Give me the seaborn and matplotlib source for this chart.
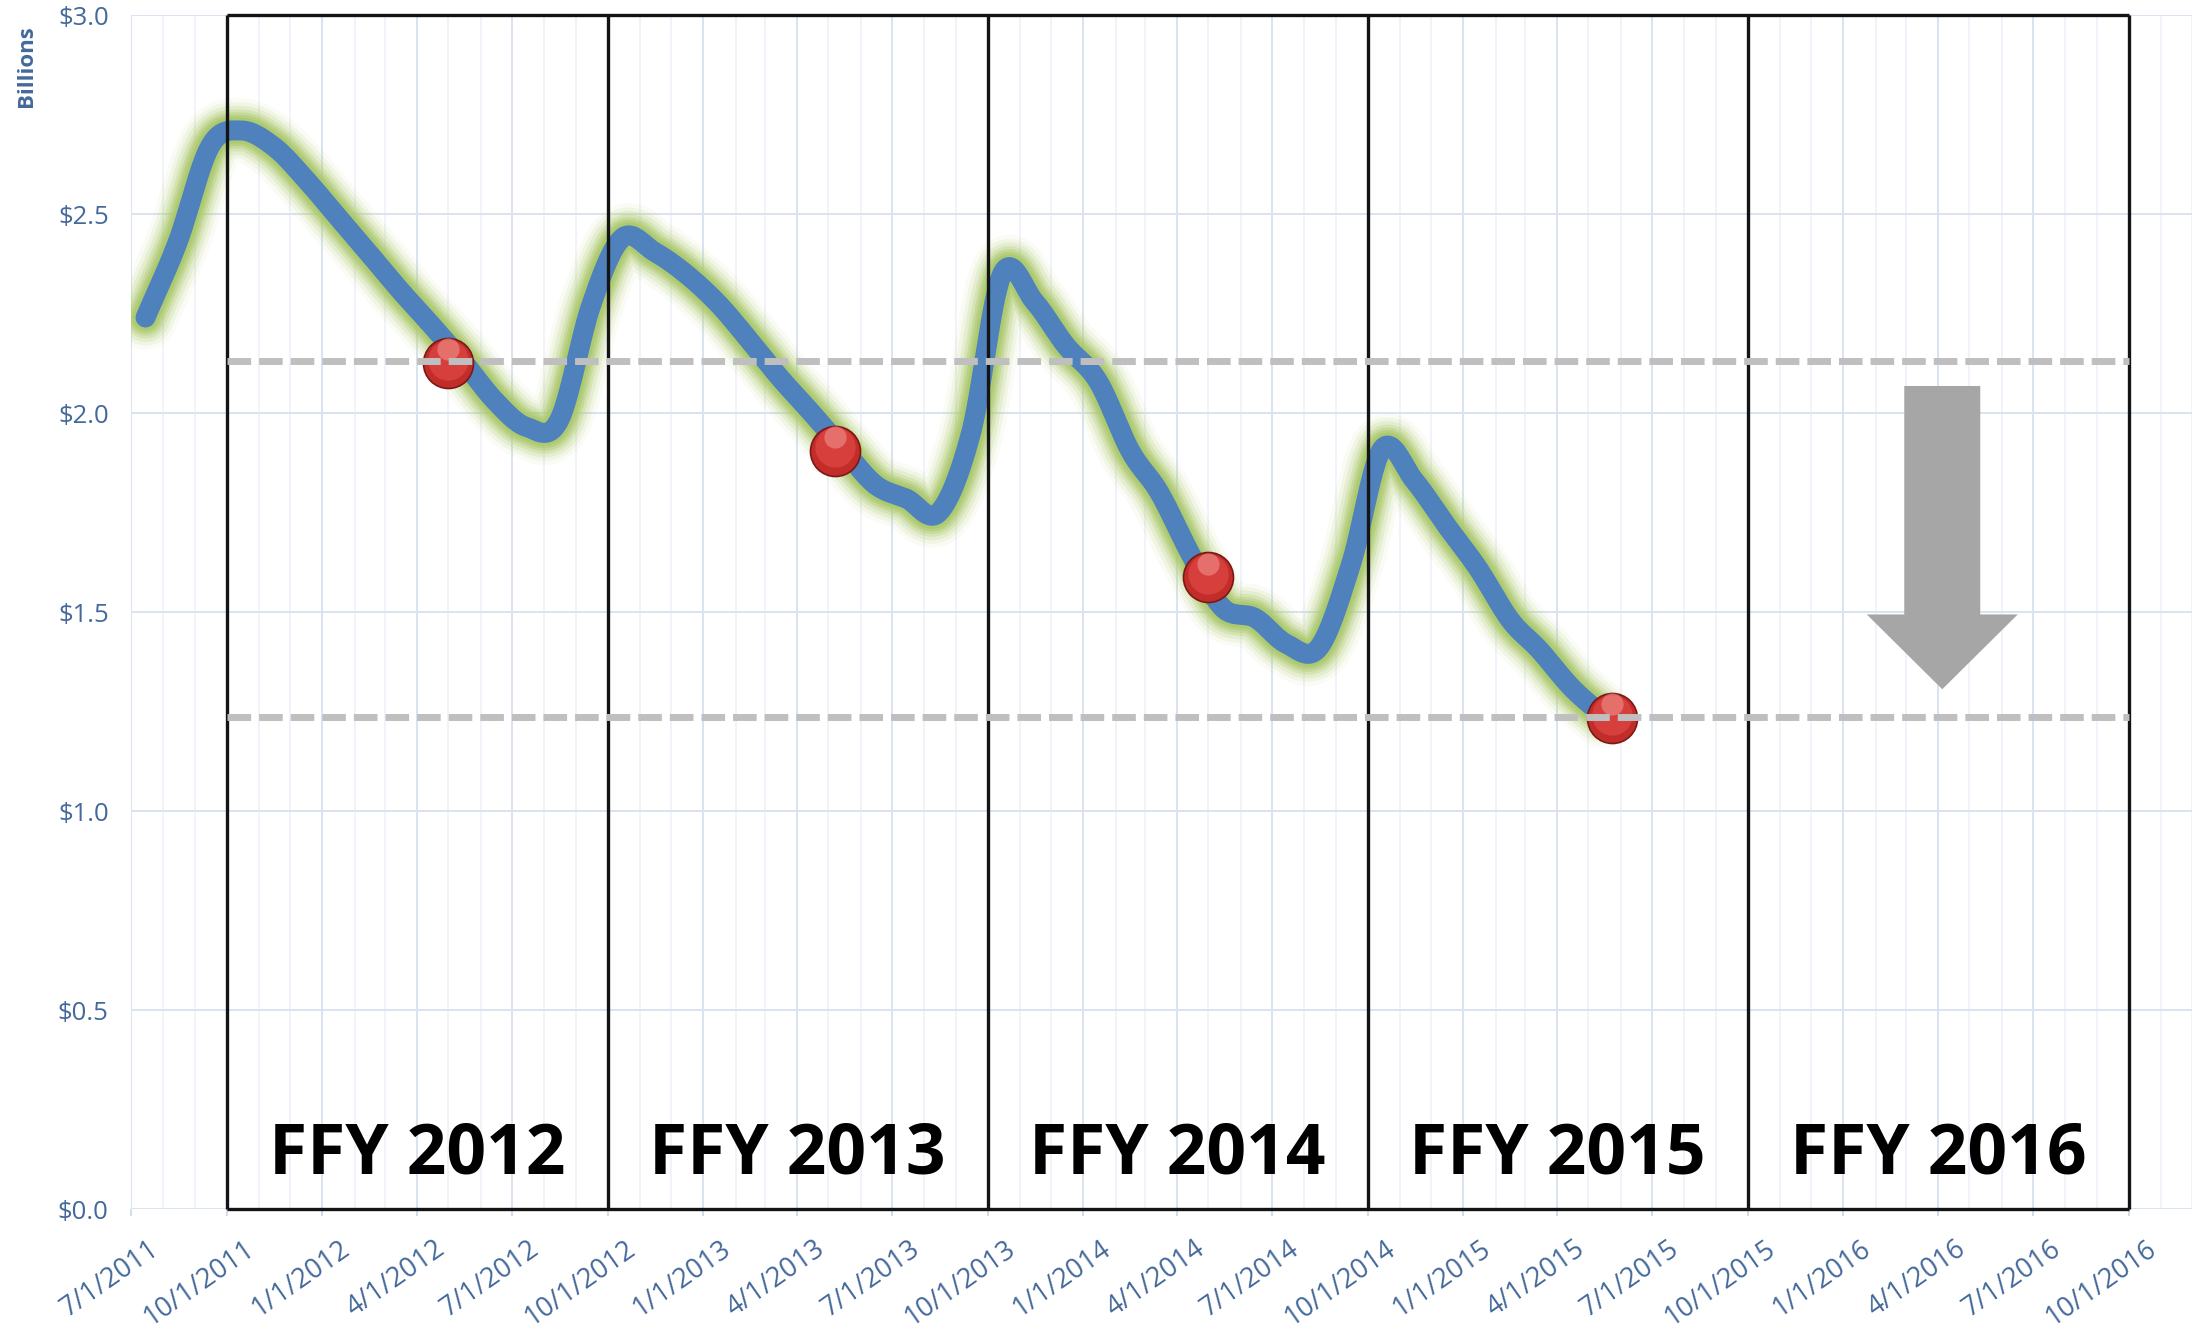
import numpy as np
import pandas as pd
import matplotlib
matplotlib.use("Agg")
import matplotlib.pyplot as plt
import matplotlib.dates as mdates
import matplotlib.transforms as mtrans
from matplotlib.patches import FancyArrow
from matplotlib.ticker import FuncFormatter
import seaborn as sns

# ---------------- data ----------------
line_dates = pd.date_range("2011-07-01", "2015-05-01", freq="MS") + pd.Timedelta(days=14)
line_values = [
    2.24, 2.43, 2.67, 2.71, 2.67, 2.59,                                           # 2011 Jul-Dec
    2.495, 2.40, 2.31, 2.22, 2.13, 2.03, 1.965, 1.98, 2.27, 2.44, 2.405, 2.35,    # 2012
    2.275, 2.18, 2.09, 2.00, 1.91, 1.82, 1.785, 1.75, 1.95, 2.35, 2.28, 2.17,     # 2013
    2.08, 1.905, 1.80, 1.64, 1.51, 1.485, 1.42, 1.41, 1.62, 1.91, 1.83, 1.72,     # 2014
    1.61, 1.48, 1.405, 1.31, 1.24,                                                # 2015
]
marker_dates = pd.to_datetime(["2012-05-01", "2013-05-07", "2014-05-01", "2015-05-24"])
marker_values = [2.125, 1.905, 1.587, 1.233]
reference_levels = [2.13, 1.237]
fy_labels = ["FFY 2012", "FFY 2013", "FFY 2014", "FFY 2015", "FFY 2016"]
fy_bounds = pd.to_datetime(["2011-10-01", "2012-10-01", "2013-10-01",
                            "2014-10-01", "2015-10-01", "2016-10-01"])
x_tick_dates = pd.date_range("2011-07-01", "2016-10-01", freq="QS-JAN")
x_tick_labels = [f"{d.month}/{d.day}/{d.year}" for d in x_tick_dates]
arrow_date = pd.Timestamp("2016-04-05")
arrow_top, arrow_tip, arrow_head_base = 2.068, 1.306, 1.494
y_ticks = [0.0, 0.5, 1.0, 1.5, 2.0, 2.5, 3.0]
x_start, x_end = pd.Timestamp("2011-07-01"), pd.Timestamp("2016-12-01")

# ---------------- style ----------------
sns.set_theme(style="white")
plt.rcParams["font.family"] = ["Open Sans", "DejaVu Sans"]
label_color = "#44699a"

fig = plt.figure(figsize=(22.08, 13.33), dpi=100)
ax = fig.add_axes([0.0593, 0.0930, 0.9335, 0.8957])


def smooth(xs, ys, n=30):
    """Excel-style smoothed line (Bezier through every point)."""
    xs = np.asarray(xs, float)
    ys = np.asarray(ys, float)
    px = np.concatenate([[2 * xs[0] - xs[1]], xs, [2 * xs[-1] - xs[-2]]])
    py = np.concatenate([[2 * ys[0] - ys[1]], ys, [2 * ys[-1] - ys[-2]]])
    t = np.linspace(0, 1, n, endpoint=False)
    ox, oy = [], []
    for i in range(1, len(px) - 2):
        for p, out in ((px, ox), (py, oy)):
            p0, p1, p2, p3 = p[i - 1], p[i], p[i + 1], p[i + 2]
            c1 = p1 + (p2 - p0) / 6.0
            c2 = p2 - (p3 - p1) / 6.0
            b = ((1 - t) ** 3) * p1 + 3 * ((1 - t) ** 2) * t * c1 + 3 * (1 - t) * t ** 2 * c2 + t ** 3 * p2
            out.extend(b)
    ox.append(xs[-1])
    oy.append(ys[-1])
    return np.array(ox), np.array(oy)


lx = mdates.date2num(line_dates)
sx, sy = smooth(lx, line_values)

# soft green glow
for w_px, a in ((64, 0.07), (56, 0.11), (49, 0.17), (42, 0.25), (36, 0.36), (31, 0.52), (26, 0.75)):
    ax.plot(sx, sy, color="#abc96b", lw=w_px * 0.72, alpha=a,
            solid_capstyle="round", solid_joinstyle="round", zorder=2)

# main blue line
sns.lineplot(x=sx, y=sy, sort=False, estimator=None, ax=ax, color="#4f81bd",
             lw=20 * 0.72, solid_capstyle="round", solid_joinstyle="round", zorder=3)

# red markers (shaded ball)
mx = mdates.date2num(marker_dates)
sns.scatterplot(x=mx, y=marker_values, ax=ax, s=36 ** 2, color="#c22d2a",
                edgecolor="#7a1816", linewidth=1.2, zorder=4, legend=False)
ax.scatter(mx, marker_values, s=29 ** 2, color="#d63f3b", linewidths=0, zorder=4.1,
           transform=ax.transData + mtrans.ScaledTranslation(0, 2.5 / 72, fig.dpi_scale_trans))
ax.scatter(mx, marker_values, s=16 ** 2, color="#f4a19b", alpha=0.5, linewidths=0, zorder=4.2,
           transform=ax.transData + mtrans.ScaledTranslation(0, 10 / 72, fig.dpi_scale_trans))

# grey arrow
ax.add_patch(FancyArrow(mdates.date2num(arrow_date), arrow_top, 0, arrow_tip - arrow_top,
                        width=73, head_width=145, head_length=arrow_head_base - arrow_tip,
                        length_includes_head=True, color="#a6a6a6", lw=0, zorder=4))

# FFY boxes
bx = mdates.date2num(fy_bounds)
ax.vlines(bx, 0, 3, colors="#141414", lw=2.4, zorder=5, clip_on=False)
ax.hlines([0, 3], bx[0], bx[-1], colors="#141414", lw=2.4, zorder=5, clip_on=False)
for i, name in enumerate(fy_labels):
    ax.text((bx[i] + bx[i + 1]) / 2, 0.09, name, ha="center", va="baseline",
            fontsize=50, fontweight="bold", color="black", zorder=7)

# dashed reference levels
for lvl in reference_levels:
    ax.plot([bx[0], bx[-1]], [lvl, lvl], color="#bfbfbf", lw=5,
            ls=(0, (3.4, 1.15)), dash_capstyle="butt", zorder=6)

# axes
ax.set_xlim(mdates.date2num(x_start), mdates.date2num(x_end))
ax.set_ylim(0, 3)
ax.set_yticks(y_ticks)
ax.yaxis.set_major_formatter(FuncFormatter(lambda v, p: f"${v:.1f}"))
tx = mdates.date2num(x_tick_dates)
ax.set_xticks(tx)
ax.xaxis.set_minor_locator(mdates.MonthLocator(bymonthday=1))
ax.set_axisbelow(True)
ax.grid(which="major", axis="both", color="#d9e4f1", lw=1.4)
ax.grid(which="minor", axis="x", color="#edf2f9", lw=1.2)
for s in ax.spines.values():
    s.set_visible(False)
ax.tick_params(axis="y", length=0, pad=16, labelsize=18.5, labelcolor=label_color)
ax.tick_params(axis="x", which="major", length=5, width=1.2, color="#c9d7e9",
               bottom=True, labelbottom=False)
ax.tick_params(axis="x", which="minor", length=0)

# slanted date labels (anchored at each tick through the x scale)
lab_tr = ax.get_xaxis_transform() + mtrans.ScaledTranslation(0.17, -0.26, fig.dpi_scale_trans)
for x, txt in zip(tx, x_tick_labels):
    ax.text(x, 0, txt, transform=lab_tr, rotation=35, rotation_mode="anchor",
            ha="right", va="top", fontsize=19.5, color=label_color, clip_on=False)
ax.set_xlabel("")
ax.set_ylabel("")

fig.text(27 / 2208, 1 - 66 / 1333, "Billions", rotation=90, ha="center", va="center",
         fontsize=16, fontweight="bold", color=label_color)

fig.savefig("out.png", dpi=100, facecolor="white")
